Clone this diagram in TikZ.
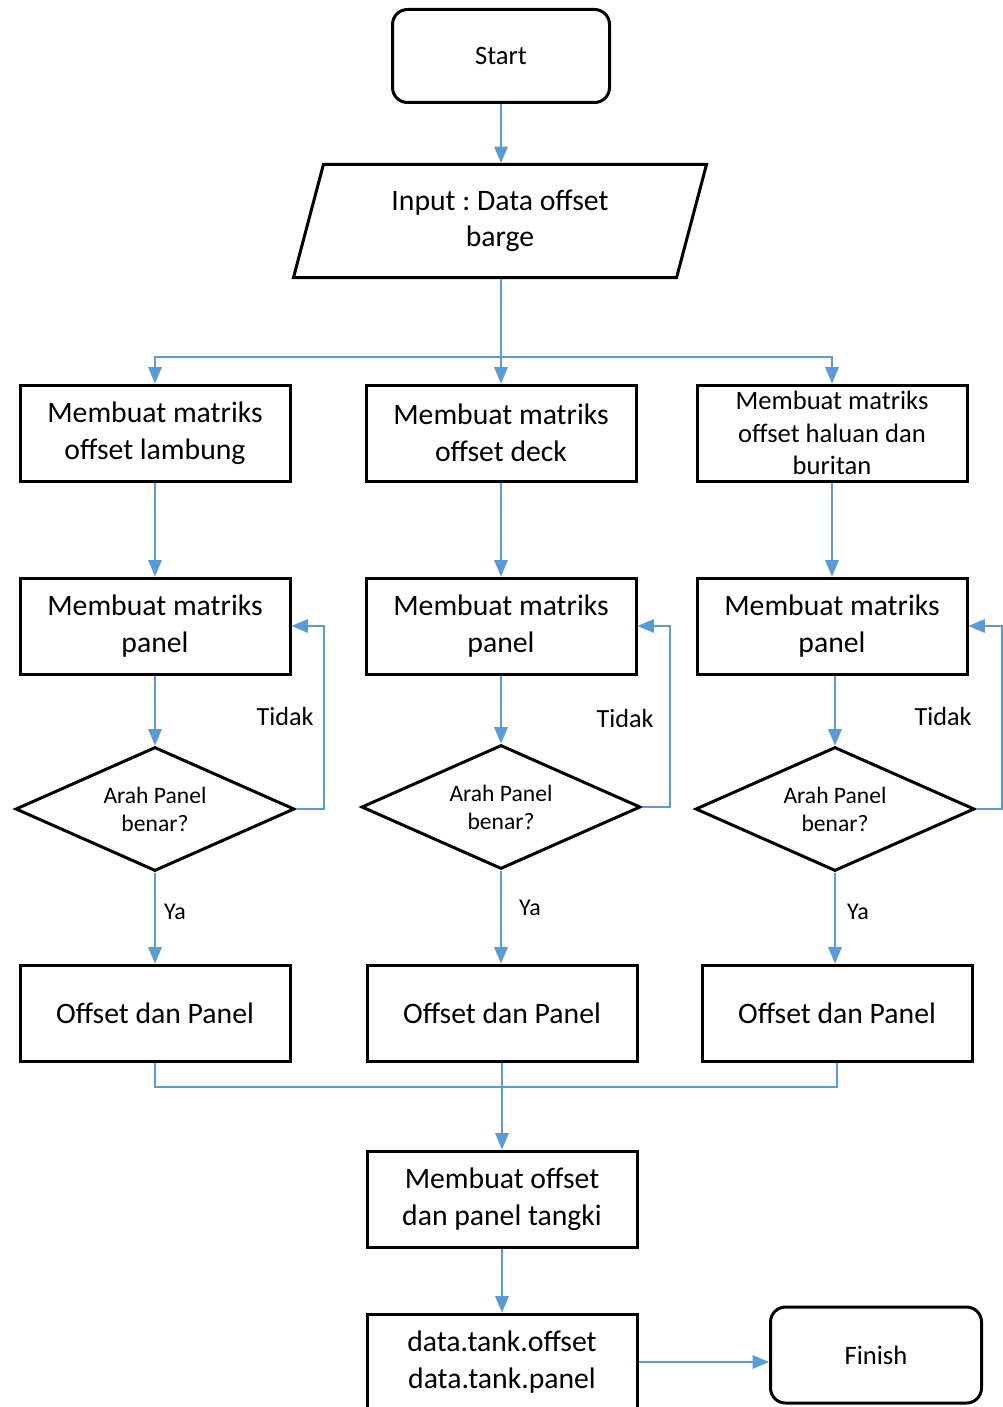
\documentclass[tikz,border=0pt]{standalone}
\usepackage{fontspec}
\setmainfont{Carlito}
\usetikzlibrary{arrows,shapes}
\definecolor{linkblue}{RGB}{91,155,213}
\frenchspacing
\tikzstyle{fcbox} = [draw, line width=3pt, minimum width=270pt, minimum height=96pt, inner sep=2pt, align=center, font=\fontsize{29.7}{37}\selectfont]
\tikzstyle{fcsmallbox} = [fcbox, font=\fontsize{26.6}{32.5}\selectfont]
\tikzstyle{fcterm} = [draw, line width=3pt, rounded corners=15pt, minimum width=217pt, minimum height=93pt, font=\fontsize{26.6}{32}\selectfont]
\tikzstyle{fcio} = [draw, line width=3pt, trapezium, trapezium left angle=65.5, trapezium right angle=114.5, trapezium stretches body=true, minimum width=413pt, minimum height=113pt, inner sep=2pt, align=center, font=\fontsize{29.7}{36}\selectfont]
\tikzstyle{fcdec} = [draw, line width=3pt, diamond, aspect=2.25, minimum width=279pt, minimum height=124pt, inner sep=0pt, align=center, font=\fontsize{23.6}{28}\selectfont]
\tikzstyle{fclink} = [draw, line width=2.9pt, linkblue, ->, >=triangle 45]
\tikzstyle{fcline} = [draw, line width=2.9pt, linkblue]
\tikzstyle{fclabel} = [inner sep=0pt, font=\fontsize{26.2}{30}\selectfont]
\newcommand{\fcloop}[3]{
\draw[fclink] (#1.east) -- ++(#3,0) |- (#2.east);
}

\begin{document}
\begin{tikzpicture}[x=1pt, y=-1pt]
\useasboundingbox (0,0) rectangle (1002,1407);

\node[fcterm] (start) at (501,56) {Start};
\node[fcio] (input) at (500,221) {Input : Data offset\\barge};

\node[fcbox] (mL) at (155,433) {Membuat matriks\\offset lambung};
\node[fcbox] (mM) at (501,433) {Membuat matriks\\offset deck};
\node[fcsmallbox] (mR) at (832,433) {Membuat matriks\\offset haluan dan\\buritan};

\node[fcbox] (pL) at (155,626) {Membuat matriks\\panel};
\node[fcbox] (pM) at (501,626) {Membuat matriks\\panel};
\node[fcbox] (pR) at (832,626) {Membuat matriks\\panel};

\node[fcdec] (dL) at (155,809) {Arah Panel\\benar?};
\node[fcdec] (dM) at (501,807) {Arah Panel\\benar?};
\node[fcdec] (dR) at (835,809) {Arah Panel\\benar?};

\node[fcbox] (oL) at (155,1013) {Offset dan Panel};
\node[fcbox] (oM) at (502,1013) {Offset dan Panel};
\node[fcbox] (oR) at (837,1013) {Offset dan Panel};

\node[fcbox] (tank) at (502,1199) {Membuat offset\\dan panel tangki};
\node[fcbox] (data) at (502,1362) {data.tank.offset\\data.tank.panel};
\node[fcterm, minimum width=211pt, minimum height=96pt] (finish) at (876,1355) {Finish};

\coordinate (busA) at (501,357);
\coordinate (busB) at (502,1087);

% top part
\draw[fclink] (start) -- (start |- input.north);
\draw[fcline] (input.south -| busA) -- (busA);
\draw[fclink] (busA) -| (mL.north);
\draw[fclink] (busA) -- (mM.north);
\draw[fclink] (busA) -| (mR.north);

\draw[fclink] (mL) -- (pL);
\draw[fclink] (mM) -- (pM);
\draw[fclink] (mR) -- (pR);
\draw[fclink] (pL) -- (dL);
\draw[fclink] (pM) -- (dM);
\draw[fclink] (pR.south -| dR.north) -- (dR.north);

% Tidak / Ya
\fcloop{dL}{pL}{28}
\fcloop{dM}{pM}{28}
\fcloop{dR}{pR}{26}
\node[fclabel] (tL) at (285,716) {Tidak};
\node[fclabel] (tM) at (625,718) {Tidak};
\node[fclabel] (tR) at (943,716) {Tidak};

\draw[fclink] (dL) -- (oL);
\draw[fclink] (dM.south) -- (dM.south |- oM.north);
\draw[fclink] (dR.south) -- (dR.south |- oR.north);
\node[fclabel, font=\fontsize{24}{28}\selectfont] (yL) at (175,912) {Ya};
\node[fclabel, font=\fontsize{24}{28}\selectfont] (yM) at (530,908) {Ya};
\node[fclabel, font=\fontsize{24}{28}\selectfont] (yR) at (858,912) {Ya};

% bottom part
\draw[fcline] (oL.south) |- (busB);
\draw[fcline] (oR.south) |- (busB);
\draw[fclink] (oM) -- (tank);
\draw[fclink] (tank) -- (data);
\draw[fclink] (data.east) -- (data.east -| finish.west);
\end{tikzpicture}
\end{document}
